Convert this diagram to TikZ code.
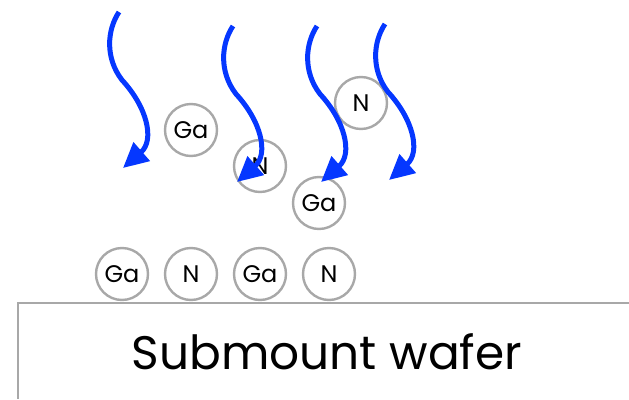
\documentclass[tikz,border=0pt]{standalone}
\usepackage{fontspec}
\setmainfont{Poppins}
\usetikzlibrary{arrows.meta}
\definecolor{ringgray}{RGB}{168,168,168}
\definecolor{fluxblue}{RGB}{5,55,255}
\tikzset{
  atom/.style={circle, draw=ringgray, line width=2.4pt, fill=white,
    minimum size=52pt, inner sep=0pt, font=\fontsize{24}{24}\selectfont},
  atomsurf/.style={atom, font=\fontsize{24}{24}\selectfont},
  flux/.style={draw=fluxblue, line width=5pt,
    -{Triangle[length=25pt,width=24pt]}},
}
\begin{document}
\begin{tikzpicture}[x=1pt,y=-1pt]
\useasboundingbox (0,0) rectangle (629,399);

% substrate outline
\draw[ringgray, line width=2pt] (629,303) -- (18,303) -- (18,399);
\node (wafer) at (327,352) {\fontsize{47}{47}\selectfont Submount wafer};

% atoms on the surface
\node[atomsurf] (s1) at (122,274) {Ga};
\node[atomsurf] (s2) at (191,274) {N};
\node[atomsurf] (s3) at (260,274) {Ga};
\node[atomsurf] (s4) at (329,274) {N};

% atoms arriving
\node[atom] (a1) at (191,130) {Ga};
\node[atom] (a2) at (260,166) {N};
\node[atom] (a3) at (319,203) {Ga};
\node[atom] (a4) at (361,103) {N};

% incoming flux arrows
\foreach \sx/\sy [count=\i] in {119/12, 233/26, 317/26, 385/24}{
  \coordinate (f\i) at (\sx,\sy);
  \coordinate (t\i) at (\sx+4,\sy+156);
  \draw[flux] (f\i) .. controls +(-12,18) and +(-17,-22) .. ++(3,68)
              .. controls +(25,27) and +(32,-28) .. (t\i);
}
\end{tikzpicture}
\end{document}
